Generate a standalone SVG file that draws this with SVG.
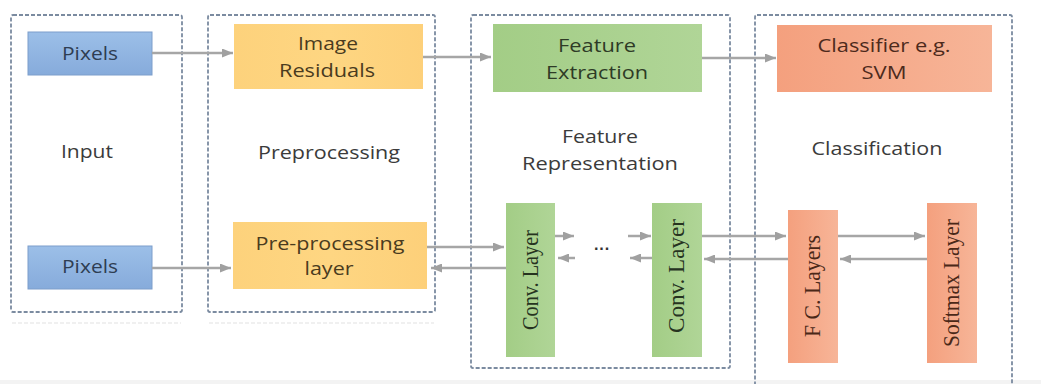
<svg xmlns="http://www.w3.org/2000/svg" width="1041" height="384" viewBox="0 0 1041 384">
<defs>
<style>
.stage{fill:none;stroke:#7b8ba0;stroke-width:1.8;stroke-dasharray:4 2;}
.refl{fill:none;stroke:#ececec;stroke-width:1.5;stroke-dasharray:4 2;}
.lbl{font-family:"Open Sans","Liberation Sans",sans-serif;font-size:18px;fill:#3b3b3b;text-anchor:middle;}
.vt{font-family:"Liberation Serif","Times New Roman",serif;font-size:20px;text-anchor:middle;dominant-baseline:central;}
.conn line{stroke:#a6a6a6;stroke-width:2.5;marker-end:url(#ah);}
</style>
<marker id="ah" markerUnits="userSpaceOnUse" markerWidth="11" markerHeight="9" refX="11" refY="4.5" orient="auto">
<path d="M0,0 L11,4.5 L0,9 z" fill="#a0a0a0"/>
</marker>
<linearGradient id="gBlue" x1="0" y1="0" x2="0" y2="1">
<stop offset="0" stop-color="#9cbfe8"/><stop offset="1" stop-color="#86abdb"/>
</linearGradient>
<linearGradient id="gOrange" x1="0" y1="0" x2="1" y2="0">
<stop offset="0" stop-color="#fdd27c"/><stop offset="0.5" stop-color="#fed682"/><stop offset="1" stop-color="#fdd07a"/>
</linearGradient>
<linearGradient id="gGreen" x1="0" y1="0" x2="1" y2="0">
<stop offset="0" stop-color="#a3cd86"/><stop offset="1" stop-color="#b0d597"/>
</linearGradient>
<linearGradient id="gSalmon" x1="0" y1="0" x2="1" y2="0">
<stop offset="0" stop-color="#f4a07e"/><stop offset="1" stop-color="#f7b598"/>
</linearGradient>
</defs>
<rect x="0" y="0" width="1041" height="384" fill="#ffffff"/>
<rect x="0" y="380" width="1041" height="4" fill="#f3f3f3"/>

<g id="stage-input">
<rect class="stage" x="11" y="15" width="171" height="297" rx="2"/>
<line class="refl" x1="12" y1="323" x2="181" y2="323"/>
<text class="lbl" x="87" y="158" textLength="52" lengthAdjust="spacingAndGlyphs">Input</text>
</g>
<g id="stage-preprocessing">
<rect class="stage" x="208" y="15" width="227" height="297" rx="2"/>
<line class="refl" x1="209" y1="323" x2="434" y2="323"/>
<text class="lbl" x="329" y="159" textLength="142" lengthAdjust="spacingAndGlyphs">Preprocessing</text>
</g>
<g id="stage-feature">
<rect class="stage" x="471" y="15" width="259" height="353" rx="2"/>
<text class="lbl" x="600" y="143" textLength="76" lengthAdjust="spacingAndGlyphs">Feature</text>
<text class="lbl" x="600" y="170" textLength="156" lengthAdjust="spacingAndGlyphs">Representation</text>
</g>
<g id="stage-classification">
<rect class="stage" x="755" y="15" width="257" height="390" rx="2"/>
<text class="lbl" x="877" y="155" textLength="131" lengthAdjust="spacingAndGlyphs">Classification</text>
</g>

<g id="pixels-top">
<rect x="28" y="32" width="124" height="43" fill="url(#gBlue)" stroke="#7d9ecb" stroke-width="1"/>
<text class="lbl" x="90" y="60" fill="#2e3d52" style="fill:#2e3d52" textLength="56" lengthAdjust="spacingAndGlyphs">Pixels</text>
</g>
<g id="image-residuals">
<rect x="234" y="24" width="189" height="65" fill="url(#gOrange)"/>
<text class="lbl" x="328" y="50" style="fill:#4a3b1e" textLength="60" lengthAdjust="spacingAndGlyphs">Image</text>
<text class="lbl" x="327" y="77" style="fill:#4a3b1e" textLength="96" lengthAdjust="spacingAndGlyphs">Residuals</text>
</g>
<g id="feature-extraction">
<rect x="493" y="24" width="209" height="68" fill="url(#gGreen)"/>
<text class="lbl" x="597" y="52" style="fill:#2e3b26" textLength="78" lengthAdjust="spacingAndGlyphs">Feature</text>
<text class="lbl" x="597" y="79" style="fill:#2e3b26" textLength="102" lengthAdjust="spacingAndGlyphs">Extraction</text>
</g>
<g id="classifier-svm">
<rect x="777" y="25" width="215" height="67" fill="url(#gSalmon)"/>
<text class="lbl" x="884" y="52" style="fill:#4d2a1c" textLength="133" lengthAdjust="spacingAndGlyphs">Classifier e.g.</text>
<text class="lbl" x="884" y="79" style="fill:#4d2a1c" textLength="45" lengthAdjust="spacingAndGlyphs">SVM</text>
</g>
<g id="pixels-bottom">
<rect x="28" y="246" width="124" height="43" fill="url(#gBlue)" stroke="#7d9ecb" stroke-width="1"/>
<text class="lbl" x="90" y="273" style="fill:#2e3d52" textLength="56" lengthAdjust="spacingAndGlyphs">Pixels</text>
</g>
<g id="preprocessing-layer">
<rect x="233" y="222" width="194" height="67" fill="url(#gOrange)"/>
<text class="lbl" x="330" y="250" style="fill:#4a3b1e" textLength="149" lengthAdjust="spacingAndGlyphs">Pre-processing</text>
<text class="lbl" x="329" y="275" style="fill:#4a3b1e" textLength="49" lengthAdjust="spacingAndGlyphs">layer</text>
</g>
<g id="conv-layer-1">
<rect x="506" y="203" width="49" height="154" fill="url(#gGreen)"/>
<text class="vt" transform="translate(531,280) scale(1.15,1) rotate(-90)" x="0" y="0" fill="#26331f" textLength="100" lengthAdjust="spacingAndGlyphs">Conv. Layer</text>
</g>
<g id="ellipsis">
<text x="602" y="254" font-family="Liberation Sans, sans-serif" font-size="16" font-weight="bold" fill="#333333" text-anchor="middle">···</text>
</g>
<g id="conv-layer-2">
<rect x="652" y="203" width="50" height="154" fill="url(#gGreen)"/>
<text class="vt" transform="translate(677,276) scale(1.15,1) rotate(-90)" x="0" y="0" fill="#26331f" textLength="114" lengthAdjust="spacingAndGlyphs">Conv. Layer</text>
</g>
<g id="fc-layers">
<rect x="788" y="210" width="50" height="153" fill="url(#gSalmon)"/>
<text class="vt" transform="translate(813,286) scale(1.15,1) rotate(-90)" x="0" y="0" fill="#4a2818" textLength="102" lengthAdjust="spacingAndGlyphs">F C. Layers</text>
</g>
<g id="softmax-layer">
<rect x="927" y="203" width="50" height="160" fill="url(#gSalmon)"/>
<text class="vt" transform="translate(952,283) scale(1.15,1) rotate(-90)" x="0" y="0" fill="#4a2818" textLength="128" lengthAdjust="spacingAndGlyphs">Softmax Layer</text>
</g>

<g id="connectors" class="conn">
<line x1="152" y1="53" x2="233" y2="53"/>
<line x1="423" y1="57" x2="491" y2="57"/>
<line x1="702" y1="58" x2="776" y2="58"/>
<line x1="152" y1="268" x2="231" y2="268"/>
<line x1="427" y1="247" x2="504" y2="247"/>
<line x1="506" y1="268" x2="431" y2="268"/>
<line x1="555" y1="236" x2="574" y2="236"/>
<line x1="575" y1="258" x2="558" y2="258"/>
<line x1="628" y1="236" x2="651" y2="236"/>
<line x1="652" y1="258" x2="630" y2="258"/>
<line x1="702" y1="236" x2="786" y2="236"/>
<line x1="788" y1="259" x2="704" y2="259"/>
<line x1="838" y1="236" x2="925" y2="236"/>
<line x1="927" y1="259" x2="840" y2="259"/>
</g>
</svg>
